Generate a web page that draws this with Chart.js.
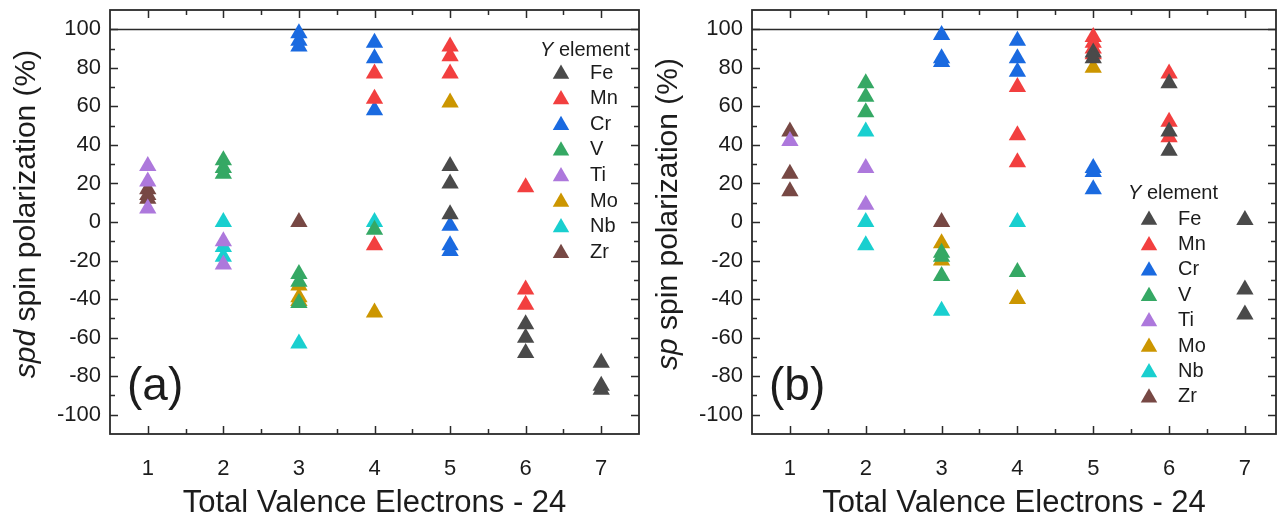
<!DOCTYPE html>
<html>
<head>
<meta charset="utf-8">
<script src="https://cdn.jsdelivr.net/npm/chart.js@4.4.1/dist/chart.umd.min.js"></script>
<style>
  html, body { margin: 0; padding: 0; background: #fff; }
  #wrap { position: relative; width: 1286px; height: 522px; }
  canvas { position: absolute; top: 0; }
</style>
</head>
<body>
<div id="wrap">
  <canvas id="spd" width="649" height="522" style="left:0"></canvas>
  <canvas id="sp" width="643" height="522" style="left:643px"></canvas>
</div>
<script>
const elements = ['Fe', 'Mn', 'Cr', 'V', 'Ti', 'Mo', 'Nb', 'Zr'];
const colors = ['#4a4a4a', '#f23f3f', '#1a6ae0', '#35a864', '#ad78dc', '#cc9600', '#19cfcf', '#774844'];
const xTicks = [1, 2, 3, 4, 5, 6, 7];
const yTicks = [-100, -80, -60, -40, -20, 0, 20, 40, 60, 80, 100];
const fullPolarization = 100;

// (a) spd spin polarization, [valence electrons - 24, %]
const spdFe = [[5, 29], [5, 20], [5, 4], [6, -53], [6, -60], [6, -68], [7, -73], [7, -85], [7, -87]];
const spdMn = [[4, 77], [4, 64], [4, -12], [5, 91], [5, 86], [5, 77], [6, 18], [6, -35], [6, -43]];
const spdCr = [[3, 98], [3, 94], [3, 91], [4, 93], [4, 85], [4, 58], [5, -2], [5, -12], [5, -15]];
const spdV = [[2, 32], [2, 28], [2, 25], [3, -27], [3, -31], [3, -42], [4, -4]];
const spdTi = [[1, 29], [1, 21], [1, 7], [2, -10], [2, -22]];
const spdMo = [[3, -33], [3, -39], [3, -41], [4, -47], [5, 62]];
const spdNb = [[2, 0], [2, -13], [2, -18], [3, -63], [4, 0]];
const spdZr = [[1, 17], [1, 14], [1, 12], [3, 0]];

// (b) sp spin polarization
const spFe = [[5, 88], [5, 85], [6, 72], [6, 47], [6, 37], [7, 1], [7, -35], [7, -48]];
const spMn = [[4, 70], [4, 45], [4, 31], [5, 96], [5, 93], [5, 90], [5, 87], [6, 77], [6, 52], [6, 44]];
const spCr = [[3, 97], [3, 85], [3, 83], [4, 94], [4, 85], [4, 78], [5, 28], [5, 26], [5, 17]];
const spV = [[2, 72], [2, 65], [2, 57], [3, -16], [3, -18], [3, -28], [4, -26]];
const spTi = [[1, 42], [2, 28], [2, 9]];
const spMo = [[3, -11], [3, -20], [4, -40], [5, 80]];
const spNb = [[2, 47], [2, 0], [2, -12], [3, -46], [4, 0]];
const spZr = [[1, 47], [1, 25], [1, 16], [3, 0]];

const FONT = "'Liberation Sans', Arial, sans-serif";
const INK = '#1c1c1c';

// frame, inward ticks on all four sides and the 100 % line
const framePlugin = {
  id: 'frame',
  beforeDatasetsDraw(chart) {
    const { ctx, chartArea: a, scales: { x, y } } = chart;
    ctx.save();
    ctx.strokeStyle = '#2a2a2a';
    ctx.lineWidth = 1.5;
    ctx.beginPath();
    for (let v = 0.5; v <= x.max + 1e-9; v += 0.5) {
      const px = Math.round(x.getPixelForValue(v)) + 0.5;
      if (px <= a.left + 2 || px >= a.right - 2) continue;
      const len = Number.isInteger(v) ? 8 : 5;
      ctx.moveTo(px, a.bottom); ctx.lineTo(px, a.bottom - len);
      ctx.moveTo(px, a.top); ctx.lineTo(px, a.top + len);
    }
    for (let v = -100; v <= 100; v += 10) {
      const py = Math.round(y.getPixelForValue(v)) + 0.5;
      const len = v % 20 === 0 ? 8 : 5;
      ctx.moveTo(a.left, py); ctx.lineTo(a.left + len, py);
      ctx.moveTo(a.right, py); ctx.lineTo(a.right - len, py);
    }
    ctx.stroke();
    const yl = Math.round(y.getPixelForValue(fullPolarization)) + 0.5;
    ctx.beginPath();
    ctx.moveTo(a.left, yl); ctx.lineTo(a.right, yl);
    ctx.stroke();
    ctx.lineWidth = 1.8;
    ctx.strokeRect(a.left, a.top, a.right - a.left, a.bottom - a.top);
    ctx.restore();
  }
};

// y title with italic prefix, panel letter and the "Y element" legend
const notesPlugin = {
  id: 'notes',
  afterDatasetsDraw(chart, args, opts) {
    const { ctx, chartArea: a } = chart;
    ctx.save();
    ctx.fillStyle = INK;

    // y axis title
    ctx.translate(opts.titleX, opts.titleY);
    ctx.rotate(-Math.PI / 2);
    ctx.font = `italic 30px ${FONT}`;
    const wi = ctx.measureText(opts.prefix).width;
    ctx.font = `30px ${FONT}`;
    const wn = ctx.measureText(opts.rest).width;
    ctx.textBaseline = 'middle';
    ctx.textAlign = 'left';
    ctx.font = `italic 30px ${FONT}`;
    ctx.fillText(opts.prefix, -(wi + wn) / 2, 0);
    ctx.font = `30px ${FONT}`;
    ctx.fillText(opts.rest, -(wi + wn) / 2 + wi, 0);
    ctx.setTransform(1, 0, 0, 1, 0, 0);

    // panel letter
    ctx.font = `46px ${FONT}`;
    ctx.textBaseline = 'alphabetic';
    ctx.fillText(opts.letter, a.left + 17, 400);

    // legend
    const lg = opts.legend;
    ctx.textBaseline = 'middle';
    ctx.font = `italic 20px ${FONT}`;
    ctx.fillText('Y', lg.x, lg.y);
    const wy = ctx.measureText('Y').width;
    ctx.font = `20px ${FONT}`;
    ctx.fillText(' element', lg.x + wy, lg.y);
    chart.data.datasets.forEach((ds, i) => {
      const ry = lg.rowY + i * lg.gap;
      ctx.fillStyle = ds.backgroundColor;
      ctx.strokeStyle = ds.backgroundColor;
      Chart.helpers.drawPoint(ctx, { pointStyle: 'triangle', radius: 9.5, rotation: 0, borderWidth: 0 }, lg.markerX, ry + 1);
      ctx.fillStyle = INK;
      ctx.fillText(ds.label, lg.textX, ry);
    });
    ctx.restore();
  }
};

function makePanel(id, sets, o) {
  return new Chart(document.getElementById(id), {
    type: 'scatter',
    data: {
      datasets: sets.map((pts, i) => ({
        label: elements[i],
        data: pts.map(p => ({ x: p[0], y: p[1] })),
        pointStyle: 'triangle',
        pointRadius: 10,
        pointHoverRadius: 10,
        backgroundColor: colors[i],
        borderColor: colors[i],
        borderWidth: 0
      }))
    },
    options: {
      responsive: false,
      animation: false,
      events: [],
      layout: { padding: { top: 8, right: 10, left: 0, bottom: 0 } },
      plugins: {
        legend: { display: false },
        tooltip: { enabled: false },
        notes: o.notes
      },
      scales: {
        x: {
          type: 'linear',
          min: 0.5,
          max: o.xMax,
          afterBuildTicks: s => { s.ticks = xTicks.map(v => ({ value: v })); },
          afterFit: s => { s.height = 88; s.paddingLeft = 0; s.paddingRight = 0; },
          grid: { display: false, drawTicks: false },
          border: { display: false },
          ticks: { padding: 22, color: INK, font: { family: FONT, size: 22 } },
          title: {
            display: true,
            text: 'Total Valence Electrons - 24',
            color: INK,
            font: { family: FONT, size: 31 },
            padding: { top: 0, bottom: 0 }
          }
        },
        y: {
          type: 'linear',
          min: -110,
          max: 110,
          afterBuildTicks: s => { s.ticks = yTicks.map(v => ({ value: v })); },
          afterFit: s => { s.width = o.yWidth; s.paddingTop = 0; s.paddingBottom = 0; },
          grid: { display: false, drawTicks: false },
          border: { display: false },
          ticks: { padding: 9, color: INK, font: { family: FONT, size: 22 } }
        }
      }
    },
    plugins: [framePlugin, notesPlugin]
  });
}

makePanel('spd', [spdFe, spdMn, spdCr, spdV, spdTi, spdMo, spdNb, spdZr], {
  xMax: 7.5, yWidth: 110,
  notes: {
    prefix: 'spd', rest: ' spin polarization (%)', titleX: 27, titleY: 214, letter: '(a)',
    legend: { x: 540, y: 50, markerX: 561, textX: 590, rowY: 73, gap: 25.6 }
  }
});

makePanel('sp', [spFe, spMn, spCr, spV, spTi, spMo, spNb, spZr], {
  xMax: 7.41, yWidth: 109,
  notes: {
    prefix: 'sp', rest: ' spin polarization (%)', titleX: 26, titleY: 214, letter: '(b)',
    legend: { x: 485, y: 193, markerX: 506, textX: 535, rowY: 219, gap: 25.4 }
  }
});
</script>
</body>
</html>
